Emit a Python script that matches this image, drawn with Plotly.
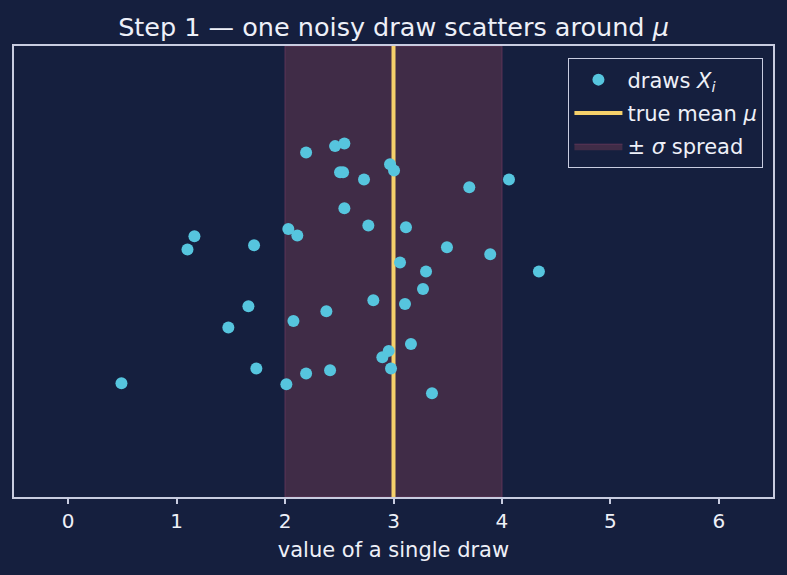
import plotly.graph_objects as go

# ---- data ----
draw_x = [2.194, 2.461, 2.547, 2.968, 3.005, 2.507, 2.535, 2.728, 2.547, 2.030,
          2.113, 2.768, 3.115, 1.164, 1.100, 1.714, 3.060, 3.300, 3.272, 2.814,
          3.106, 1.662, 2.381, 2.077, 1.477, 3.161, 2.956, 2.897, 2.977, 1.735,
          2.194, 2.415, 2.012, 0.491, 3.355, 3.699, 4.065, 3.493, 3.892, 4.341]
draw_y = [0.764, 0.778, 0.784, 0.738, 0.724, 0.720, 0.720, 0.704, 0.640, 0.594,
          0.580, 0.602, 0.598, 0.578, 0.549, 0.558, 0.520, 0.500, 0.461, 0.436,
          0.428, 0.423, 0.412, 0.390, 0.376, 0.339, 0.324, 0.310, 0.285, 0.285,
          0.274, 0.281, 0.250, 0.252, 0.230, 0.687, 0.704, 0.554, 0.538, 0.500]
mu = 3.0
sigma = 1.0
x_ticks = [0, 1, 2, 3, 4, 5, 6]
x_range = [-0.5, 6.5]
y_range = [0, 1]

BG = "#151f3e"
FRAME = "#c8cce0"
TEXT = "#eef0f8"
FONT = "DejaVu Sans"

fig = go.Figure()

# ±sigma band
fig.add_trace(go.Scatter(
    x=[mu - sigma, mu + sigma, mu + sigma, mu - sigma, mu - sigma],
    y=[y_range[0], y_range[0], y_range[1], y_range[1], y_range[0]],
    mode="lines", fill="toself", fillcolor="#402c47",
    line=dict(color="#5e3557", width=1),
    name="± <i>σ</i> spread", legendrank=3, legendgroup="c", hoverinfo="skip",
))

# true mean line
fig.add_trace(go.Scatter(
    x=[mu, mu], y=y_range, mode="lines",
    line=dict(color="#f5d06a", width=4),
    name="true mean <i>μ</i>", legendrank=2, legendgroup="b",
))

# draws
fig.add_trace(go.Scatter(
    x=draw_x, y=draw_y, mode="markers",
    marker=dict(color="#56c5de", size=12, line=dict(width=0)),
    name="draws <i>X<sub>i</sub></i>", legendrank=1, legendgroup="a",
))

fig.update_layout(
    width=787, height=575,
    margin=dict(l=14, r=14, t=46, b=78),
    paper_bgcolor=BG, plot_bgcolor=BG,
    font=dict(family=FONT, color=TEXT, size=20),
    title=dict(text="Step 1 — one noisy draw scatters around <i>μ</i>",
               x=0.5, xref="paper", xanchor="center",
               y=1 - 27 / 575, yref="container", yanchor="middle",
               font=dict(size=25.5, color=TEXT, family=FONT)),
    showlegend=True,
    legend=dict(x=0.987, y=0.973, xanchor="right", yanchor="top",
                bgcolor=BG, bordercolor=FRAME, borderwidth=1.3,
                font=dict(size=21, color=TEXT, family=FONT),
                traceorder="grouped", tracegroupgap=3, itemwidth=48),
    xaxis=dict(range=x_range, tickvals=x_ticks, ticktext=[str(t) for t in x_ticks],
               showgrid=False, zeroline=False,
               showline=True, mirror=True, linecolor=FRAME, linewidth=1.6,
               ticks="outside", ticklen=5, tickwidth=1.5, tickcolor=FRAME,
               tickfont=dict(size=20, color=TEXT, family=FONT),
               title=dict(text="value of a single draw", standoff=11,
                          font=dict(size=21, color=TEXT, family=FONT))),
    yaxis=dict(range=y_range, showticklabels=False, ticks="",
               showgrid=False, zeroline=False,
               showline=True, mirror=True, linecolor=FRAME, linewidth=1.6),
)

fig.write_html("out.html")
